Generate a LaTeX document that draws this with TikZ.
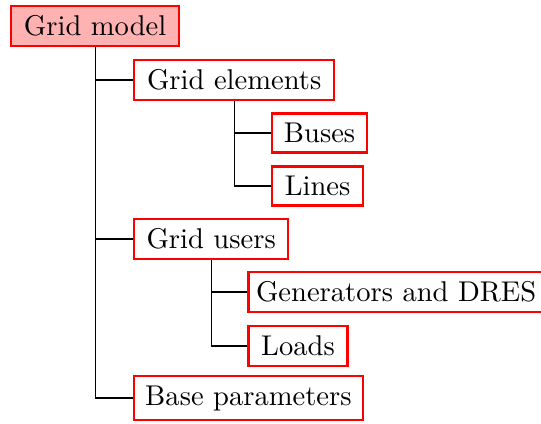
\documentclass[tikz,border=0pt]{standalone}
\usepackage{tikz}
\usetikzlibrary{positioning}
\tikzstyle{treebox} = [draw=red, thick, anchor=west, inner xsep=2.6pt, inner ysep=3.4pt]
\tikzstyle{rootbox} = [treebox, fill=red!30]
\tikzstyle{branch} = [draw=black, thin]

\begin{document}
\begin{tikzpicture}
    \useasboundingbox (0,0) rectangle (189.35pt,-148.05pt);
    % root and first level
    \node[rootbox, minimum width=58.8pt] (gridmodel) at (3.5pt,-9.1pt) {Grid model};
    \node[treebox, minimum width=70pt] (elements) at (46.55pt,-28pt) {Grid elements};
    \node[treebox, minimum width=53.9pt] (users) at (46.55pt,-83.65pt) {Grid users};
    \node[treebox, minimum width=80pt] (baseparams) at (46.55pt,-139.3pt) {Base parameters};
    % second level
    \node[treebox, minimum width=33.2pt] (buses) at (94.85pt,-46.55pt) {Buses};
    \node[treebox, minimum width=31.8pt] (lines) at (94.85pt,-65.1pt) {Lines};
    \node[treebox] (generators) at (86.6pt,-102.2pt) {Generators and DRES};
    \node[treebox, minimum width=34.6pt] (loads) at (86.6pt,-121.1pt) {Loads};
    % branches
    \draw[branch] (gridmodel.south) |- (elements.west);
    \draw[branch] (gridmodel.south) |- (users.west);
    \draw[branch] (gridmodel.south) |- (baseparams.west);
    \draw[branch] (elements.south) |- (buses.west);
    \draw[branch] (elements.south) |- (lines.west);
    \draw[branch] (users.south) |- (generators.west);
    \draw[branch] (users.south) |- (loads.west);
\end{tikzpicture}
\end{document}
